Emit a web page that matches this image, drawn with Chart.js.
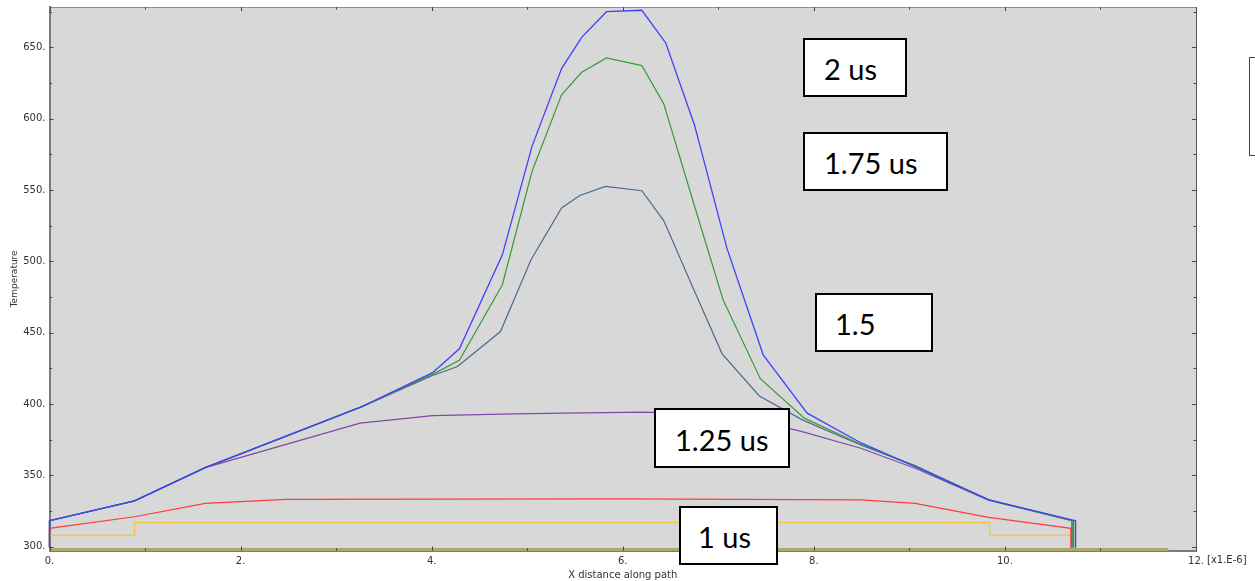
<!DOCTYPE html>
<html>
<head>
<meta charset="utf-8">
<script src="https://cdn.jsdelivr.net/npm/chart.js@4.4.1/dist/chart.umd.min.js"></script>
<style>
  html, body { margin: 0; padding: 0; background: #fff; }
  #wrap { position: relative; width: 1255px; height: 581px; overflow: hidden; }
  #plot { position: absolute; left: 0; top: 0; }
  .note {
    position: absolute; box-sizing: border-box; background: #fff;
    border: 2px solid #000; font-family: Lato, "Open Sans", sans-serif;
    font-size: 29px; color: #000; display: flex; align-items: center;
    white-space: nowrap; padding-top: 2px;
  }
  .legend-edge {
    position: absolute; left: 1249px; top: 57px; width: 12px; height: 99px;
    box-sizing: border-box; border: 1.5px solid #444; border-right: none;
  }
</style>
</head>
<body>
<div id="wrap">
  <canvas id="plot" width="1255" height="581"></canvas>
  <div class="note" style="left:803px;top:38px;width:104px;height:59px;padding-left:19px;">2 us</div>
  <div class="note" style="left:803px;top:132px;width:145px;height:59px;padding-left:19px;">1.75 us</div>
  <div class="note" style="left:815px;top:293px;width:118px;height:59px;padding-left:18px;">1.5</div>
  <div class="note" style="left:654px;top:408px;width:136px;height:60px;padding-left:19px;">1.25 us</div>
  <div class="note" style="left:679px;top:506px;width:99px;height:59px;padding-left:17px;">1 us</div>
  <div class="legend-edge"></div>
</div>
<script>
// Tick values
const xTickValues = [0, 2, 4, 6, 8, 10, 12];
const yTickValues = [300, 350, 400, 450, 500, 550, 600, 650];

// Temperature along the path at successive times (x in units of 1e-6)
const x200 = [0, 0, 0.89, 1.63, 3.27, 4.01, 4.29, 4.74, 5.05, 5.36, 5.57, 5.83, 6.20, 6.45, 6.75, 7.09, 7.47, 7.93, 8.49, 9.06, 9.83, 10.74, 10.74];
const t200 = [299.2, 318.2, 332.1, 355.4, 398.2, 422.0, 438.7, 504.6, 580.6, 635.1, 657.0, 675.0, 676.0, 653.1, 595.8, 509.3, 434.5, 393.6, 372.9, 356.1, 332.8, 318.2, 299.2];

const x175 = [0, 0, 0.89, 1.63, 3.27, 4.01, 4.29, 4.74, 5.05, 5.36, 5.57, 5.83, 6.20, 6.43, 6.75, 7.05, 7.44, 7.90, 8.49, 9.06, 9.83, 10.71, 10.71];
const t175 = [299.2, 318.2, 332.1, 355.4, 398.2, 420.8, 430.7, 483.6, 563.0, 616.8, 632.5, 642.6, 637.2, 610.3, 539.0, 473.1, 417.8, 390.1, 371.8, 356.5, 332.8, 318.2, 299.2];

const x150 = [0, 0, 0.89, 1.63, 3.27, 4.01, 4.27, 4.72, 5.04, 5.36, 5.55, 5.82, 6.20, 6.43, 6.75, 7.04, 7.43, 7.88, 8.49, 9.06, 9.83, 10.72, 10.72];
const t150 = [299.2, 318.2, 332.1, 355.4, 398.2, 420.0, 426.3, 450.8, 501.1, 537.4, 546.2, 552.5, 549.5, 528.4, 479.3, 435.2, 405.7, 388.9, 371.3, 356.8, 332.8, 318.2, 299.2];

const x125 = [0, 0, 0.89, 1.63, 3.25, 4.01, 4.73, 5.36, 5.83, 6.20, 6.75, 7.07, 7.45, 7.86, 8.49, 9.06, 9.83, 10.70, 10.70];
const t125 = [299.2, 318.2, 332.1, 355.4, 386.6, 391.9, 393.0, 393.6, 394.0, 394.3, 393.3, 391.0, 387.0, 381.0, 369.0, 355.0, 332.6, 318.2, 299.2];

const x100 = [0, 0, 0.89, 1.63, 2.48, 4.01, 6.00, 8.49, 9.06, 9.83, 10.69, 10.69];
const t100 = [299.2, 312.9, 321.0, 330.4, 333.2, 333.4, 333.5, 332.8, 330.4, 320.6, 312.9, 299.2];

const x075 = [0, 0, 0.89, 0.89, 9.84, 9.84, 10.70, 10.70];
const t075 = [299.2, 308.0, 308.0, 317.0, 317.0, 308.0, 308.0, 299.2];

const x000 = [0, 11.71];
const t000 = [298.0, 298.0];

const pts = (xs, ys) => xs.map((v, i) => ({ x: v, y: ys[i] }));

const line = (label, xs, ys, color, width) => ({
  label, data: pts(xs, ys), borderColor: color, backgroundColor: color,
  borderWidth: width, pointRadius: 0, tension: 0, fill: false, clip: false
});

const TICK_FONT = { family: '"DejaVu Sans", Verdana, sans-serif', size: 10 };

// Plot background, frame, inward tick marks and the axis multiplier
const framePlugin = {
  id: 'frame',
  beforeDraw(chart) {
    const { ctx, chartArea: a } = chart;
    ctx.save();
    ctx.fillStyle = '#d8d8d8';
    ctx.fillRect(a.left, a.top, a.right - a.left, a.bottom - a.top);
    ctx.restore();
  },
  afterDraw(chart) {
    const { ctx, chartArea: a, scales: { x, y } } = chart;
    ctx.save();
    ctx.lineWidth = 1;
    ctx.strokeStyle = '#8c8c8c';
    ctx.beginPath();
    ctx.moveTo(a.left, Math.round(a.top) + 0.5); ctx.lineTo(a.right, Math.round(a.top) + 0.5);
    ctx.stroke();
    ctx.strokeStyle = '#555';
    ctx.beginPath();
    ctx.moveTo(Math.round(a.right) + 0.5, a.top); ctx.lineTo(Math.round(a.right) + 0.5, a.bottom);
    ctx.stroke();

    ctx.strokeStyle = '#444';
    ctx.beginPath();
    for (let v = 300; v <= 675; v += 25) {
      const len = v % 50 === 0 ? 4 : 2.5;
      const py = Math.round(y.getPixelForValue(v)) + 0.5;
      ctx.moveTo(a.left, py); ctx.lineTo(a.left + len, py);
      ctx.moveTo(a.right, py); ctx.lineTo(a.right - len, py);
    }
    for (let v = 0; v <= 12; v += 1) {
      const len = v % 2 === 0 ? 4 : 2.5;
      const px = Math.round(x.getPixelForValue(v)) + 0.5;
      ctx.moveTo(px, a.bottom); ctx.lineTo(px, a.bottom - len);
      ctx.moveTo(px, a.top); ctx.lineTo(px, a.top + len);
    }
    ctx.stroke();

    ctx.fillStyle = '#333';
    ctx.font = '10px "DejaVu Sans", Verdana, sans-serif';
    ctx.textAlign = 'left';
    ctx.textBaseline = 'middle';
    ctx.fillText('[x1.E-6]', x.getPixelForValue(12) + 11, 560);
    ctx.restore();
  }
};

new Chart(document.getElementById('plot'), {
  type: 'line',
  data: {
    datasets: [
      line('2 us', x200, t200, '#4040ff', 1.3),
      line('1.75 us', x175, t175, '#3a9a3a', 1.2),
      line('1.5 us', x150, t150, '#4d6b8a', 1.2),
      line('1.25 us', x125, t125, '#7d4aa6', 1.2),
      line('1 us', x100, t100, '#ff3c3c', 1.2),
      line('0.75 us', x075, t075, '#efcb45', 1.4),
      line('0 us', x000, t000, '#aca86e', 3)
    ]
  },
  options: {
    responsive: false,
    animation: false,
    devicePixelRatio: 1,
    layout: { padding: { top: 7, right: 59, left: 0, bottom: 0 } },
    plugins: { legend: { display: false }, tooltip: { enabled: false } },
    scales: {
      x: {
        type: 'linear', min: 0, max: 12,
        afterBuildTicks(s) { s.ticks = xTickValues.map(v => ({ value: v })); },
        afterFit(s) { s.height = 30.3; s.paddingLeft = 0; s.paddingRight = 0; },
        ticks: { callback: v => v + '.', font: TICK_FONT, color: '#333', padding: 5, maxRotation: 0, autoSkip: false },
        grid: { display: true, drawOnChartArea: false, drawTicks: false, color: 'rgba(0,0,0,0)' },
        border: { display: true, color: '#7a7a7a', width: 2 },
        title: { display: true, text: 'X distance along path', font: TICK_FONT, color: '#333', padding: { top: 0, bottom: 0 } }
      },
      y: {
        type: 'linear', min: 297.2, max: 678.3,
        afterBuildTicks(s) { s.ticks = yTickValues.map(v => ({ value: v })); },
        afterFit(s) { s.width = 49.5; s.paddingTop = 0; s.paddingBottom = 0; },
        ticks: { callback: v => v + '.', font: TICK_FONT, color: '#333', padding: 4 },
        grid: { display: true, drawOnChartArea: false, drawTicks: false, color: 'rgba(0,0,0,0)' },
        border: { display: true, color: '#7a7a7a', width: 2 },
        title: { display: true, text: 'Temperature', font: { family: '"DejaVu Sans", Verdana, sans-serif', size: 9 }, color: '#333', padding: { top: 9, bottom: 0 } }
      }
    }
  },
  plugins: [framePlugin]
});
</script>
</body>
</html>
